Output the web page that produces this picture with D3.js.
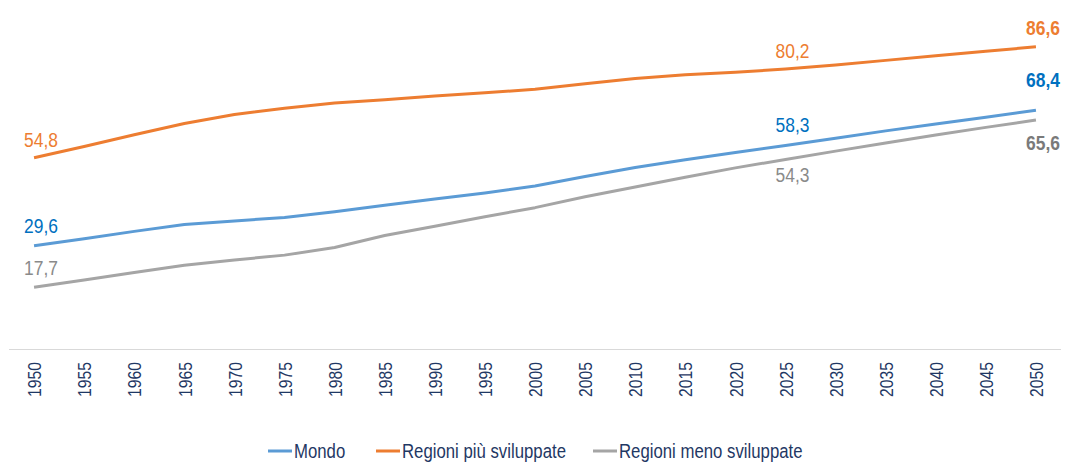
<!DOCTYPE html>
<html>
<head>
<meta charset="utf-8">
<script src="https://cdn.jsdelivr.net/npm/d3@7"></script>
<style>
  body { margin: 0; background: #fff; }
  svg text { font-family: "Liberation Sans Narrow", "Arial Narrow", "Liberation Sans", Arial, sans-serif; }
</style>
</head>
<body>
<svg id="chart" width="1072" height="464"></svg>
<script>
// years on the x axis
const years = d3.range(1950, 2051, 5).map(String);

// urban population share (%)
const mondo = [29.6, 31.6, 33.7, 35.7, 36.7, 37.7, 39.3, 41.2, 43.0, 44.7, 46.7,
               49.4, 52.0, 54.2, 56.3, 58.3, 60.4, 62.5, 64.5, 66.4, 68.4];
const piuSviluppate = [54.8, 58.0, 61.4, 64.6, 67.2, 69.0, 70.5, 71.4, 72.5, 73.4, 74.4,
                       76.0, 77.5, 78.6, 79.3, 80.2, 81.4, 82.7, 84.0, 85.3, 86.6];
const menoSviluppate = [17.7, 19.8, 21.9, 24.0, 25.5, 26.9, 29.1, 32.5, 35.2, 37.9, 40.5,
                        43.6, 46.4, 49.2, 51.9, 54.3, 56.7, 59.0, 61.3, 63.5, 65.6];

const seriesNames = ["Mondo", "Regioni più sviluppate", "Regioni meno sviluppate"];
const labelYears = ["1950", "2025", "2050"];

const svg = d3.select("#chart");
const margin = { left: 9, right: 11, top: 0, bottom: 115 };
const width = 1072, height = 464;
const NARROW = 0.85; // no narrow font installed, squeeze glyphs horizontally

const x = d3.scalePoint()
    .domain(years)
    .range([margin.left, width - margin.right])
    .padding(0.5);

const y = d3.scaleLinear()
    .domain([0, 100])
    .range([height - margin.bottom, margin.top]);

const series = [
    { name: seriesNames[0], values: mondo, line: "#5b9bd5", label: "#0070c0",
      pos: { "1950": -13, "2025": -14, "2050": -23 } },
    { name: seriesNames[1], values: piuSviluppate, line: "#ed7d31", label: "#ed7d31",
      pos: { "1950": -11, "2025": -11, "2050": -12 } },
    { name: seriesNames[2], values: menoSviluppate, line: "#a5a5a5", label: "#8a8a8a",
      pos: { "1950": -12, "2025": 23, "2050": 30 } }
];

// place a text at (px,py) and squeeze it
function narrowText(sel, px, py, sx) {
    return sel.attr("x", 0).attr("y", 0)
        .attr("transform", `translate(${px},${py}) scale(${sx},1)`);
}

// x axis: baseline + rotated labels, no ticks
const xAxis = svg.append("g")
    .attr("transform", `translate(0,${y(0)})`)
    .call(d3.axisBottom(x).tickSize(0).tickPadding(0));
xAxis.select(".domain").attr("stroke", "#d9d9d9").attr("stroke-width", 1.2)
    .attr("d", `M${margin.left},0.5H${width - margin.right}`);
xAxis.selectAll("text")
    .attr("fill", "#1f3864")
    .attr("font-size", 18.5)
    .attr("transform", `translate(0,13) rotate(-90) scale(${NARROW},1)`)
    .attr("text-anchor", "end")
    .attr("dy", "0.36em")
    .attr("x", 0)
    .attr("y", 0);

const line = d3.line()
    .x((d, i) => x(years[i]))
    .y(d => y(d));

// draw gray first, then orange, blue on top
[series[2], series[1], series[0]].forEach(s => {
    svg.append("path")
        .datum(s.values)
        .attr("fill", "none")
        .attr("stroke", s.line)
        .attr("stroke-width", 3)
        .attr("stroke-linejoin", "round")
        .attr("d", line);
});

// data labels
series.forEach(s => {
    labelYears.forEach(yr => {
        const i = years.indexOf(yr);
        const v = s.values[i];
        const isLast = yr === "2050";
        svg.append("text")
            .call(narrowText, x(yr) + 7, y(v) + s.pos[yr], NARROW)
            .attr("text-anchor", "middle")
            .attr("font-size", 20.5)
            .attr("font-weight", isLast ? "bold" : "normal")
            .attr("fill", isLast && s.name === seriesNames[2] ? "#7a7a7a" : s.label)
            .text(v.toFixed(1).replace(".", ","));
    });
});

// legend
const legendX = [268, 376, 593];
const legend = svg.append("g").attr("transform", "translate(0,451)");
series.forEach((s, i) => {
    legend.append("line")
        .attr("x1", legendX[i]).attr("x2", legendX[i] + 24)
        .attr("y1", 0).attr("y2", 0)
        .attr("stroke", s.line).attr("stroke-width", 3);
    legend.append("text")
        .call(narrowText, legendX[i] + 26, 0, 0.86)
        .attr("dy", "0.36em")
        .attr("font-size", 19.5)
        .attr("fill", "#1f3864")
        .text(s.name);
});
</script>
</body>
</html>
